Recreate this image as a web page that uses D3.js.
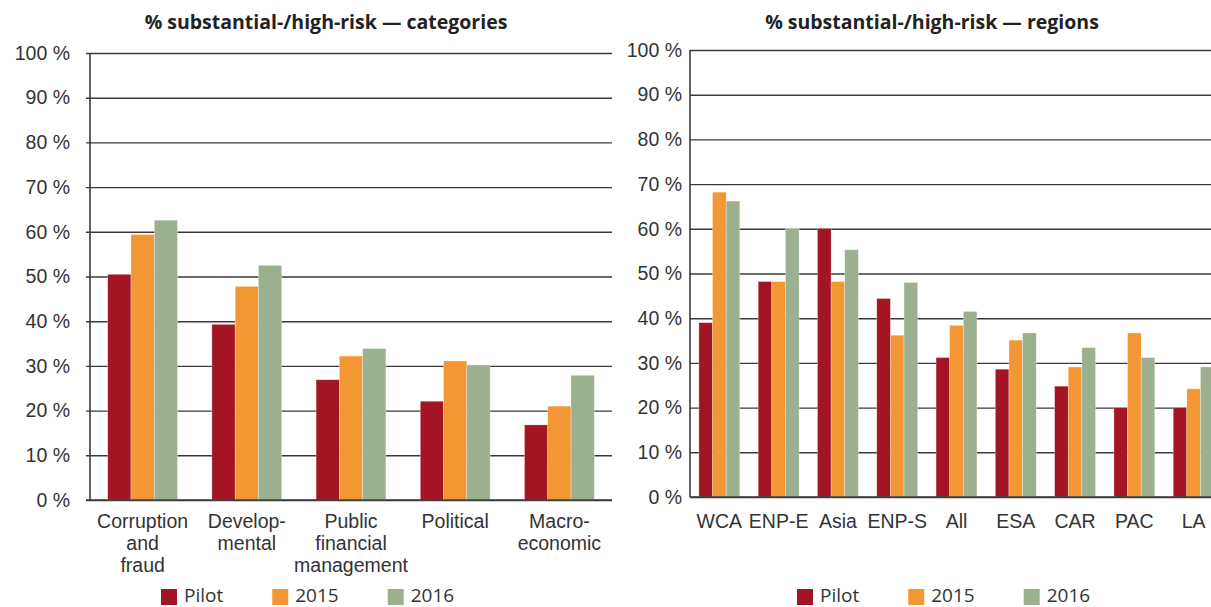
<!DOCTYPE html>
<html>
<head>
<meta charset="utf-8">
<script src="https://cdn.jsdelivr.net/npm/d3@7"></script>
<style>
  html, body { margin: 0; padding: 0; background: #fff; overflow: hidden; }
  svg { display: block; font-family: "Open Sans", sans-serif; }
  .tick text { fill: #333; font-size: 19.5px; }
  .title { font-weight: bold; font-size: 19.5px; fill: #222; }
  .legend text { fill: #333; font-size: 19px; }
</style>
</head>
<body>
<div id="chart"></div>
<script>
// values (percent)
const series = ["Pilot", "2015", "2016"]
const colors = ["#a31523", "#f39634", "#9bb08f"]
const yTicks = [0, 10, 20, 30, 40, 50, 60, 70, 80, 90, 100]

const categories = ["Corruption\nand\nfraud", "Develop-\nmental", "Public\nfinancial\nmanagement", "Political", "Macro-\neconomic"]
const catPilot = [50.5, 39.3, 26.9, 22.1, 16.8]
const cat2015 = [59.4, 47.8, 32.2, 31.1, 21.0]
const cat2016 = [62.6, 52.5, 33.9, 30.2, 27.9]

const regions = ["WCA", "ENP-E", "Asia", "ENP-S", "All", "ESA", "CAR", "PAC", "LA"]
const regPilot = [39.0, 48.2, 60.1, 44.4, 31.2, 28.6, 24.8, 20.0, 20.0]
const reg2015 = [68.2, 48.2, 48.2, 36.2, 38.4, 35.1, 29.1, 36.7, 24.2]
const reg2016 = [66.2, 60.1, 55.3, 48.0, 41.5, 36.7, 33.4, 31.2, 29.1]

const W = 1211, H = 607

const svg = d3.select("#chart")
  .append("svg")
  .attr("width", W)
  .attr("height", H)

function drawChart(opts) {
  const g = svg.append("g")

  const x = d3.scaleBand()
    .domain(opts.names)
    .range([opts.axisX, opts.bandEnd])
    .paddingInner(opts.padIn)
    .paddingOuter(opts.padOut)

  const xs = d3.scaleBand()
    .domain(series)
    .range([0, x.bandwidth()])

  const y = d3.scaleLinear()
    .domain([0, 100])
    .range([opts.y0, opts.y100])

  // gridlines + tick labels
  const yAxis = d3.axisLeft(y)
    .tickValues(yTicks)
    .tickFormat(d => d + " %")
    .tickSize(opts.gridEnd - opts.gridStart)
    .tickPadding(opts.gridStart - opts.labelRight)

  g.append("g")
    .attr("transform", `translate(${opts.gridEnd},0)`)
    .call(yAxis)
    .call(a => a.select(".domain").remove())
    .call(a => a.selectAll(".tick line").attr("stroke", "#3a3a3a").attr("stroke-width", 1.4))

  // bars
  const rows = opts.names.map((n, i) => ({ name: n, vals: opts.values.map(v => v[i]) }))
  g.append("g")
    .selectAll("g")
    .data(rows)
    .join("g")
    .attr("transform", d => `translate(${x(d.name)},0)`)
    .selectAll("rect")
    .data(d => d.vals.map((v, k) => ({ key: series[k], v: v, c: colors[k] })))
    .join("rect")
    .attr("x", d => xs(d.key))
    .attr("y", d => y(d.v))
    .attr("width", xs.bandwidth())
    .attr("height", d => y(0) - y(d.v))
    .attr("fill", d => d.c)
    .attr("stroke", "#fff")
    .attr("stroke-opacity", 0.5)
    .attr("stroke-width", 0.6)

  // vertical axis line and base line
  g.append("line")
    .attr("x1", opts.axisX).attr("x2", opts.axisX)
    .attr("y1", y(100)).attr("y2", y(0))
    .attr("stroke", "#3a3a3a").attr("stroke-width", 1.6)
  g.append("line")
    .attr("x1", opts.gridStart).attr("x2", opts.gridEnd)
    .attr("y1", y(0)).attr("y2", y(0))
    .attr("stroke", "#3a3a3a").attr("stroke-width", 1.6)

  // category labels
  const xAxis = d3.axisBottom(x).tickSize(0).tickPadding(0)
  const xa = g.append("g")
    .attr("transform", `translate(0,${opts.labelY})`)
    .call(xAxis)
  xa.select(".domain").remove()
  xa.selectAll(".tick text")
    .attr("y", 0).attr("dy", 0)
    .text(null)
    .each(function(d) {
      const t = d3.select(this)
      d.split("\n").forEach((line, i) => {
        t.append("tspan")
          .attr("x", 0)
          .attr("y", i * 22)
          .text(line)
      })
    })

  // title
  g.append("text")
    .attr("class", "title")
    .attr("x", opts.center)
    .attr("y", 29)
    .attr("text-anchor", "middle")
    .text(opts.title)

  // legend
  const lg = g.append("g").attr("class", "legend")
  const items = lg.selectAll("g")
    .data(series)
    .join("g")
  items.append("rect")
    .attr("width", 16).attr("height", 16)
    .attr("y", 589)
    .attr("fill", (d, i) => colors[i])
  items.append("text")
    .attr("x", 23)
    .attr("y", 602)
    .text(d => d)
  let pos = opts.legendX
  const starts = []
  items.each(function() {
    starts.push(pos)
    pos += 23 + this.querySelector("text").getComputedTextLength() + 49
  })
  items.attr("transform", (d, i) => `translate(${starts[i]},0)`)
}

drawChart({
  names: categories,
  values: [catPilot, cat2015, cat2016],
  axisX: 90, bandEnd: 612, padIn: 0.33, padOut: 0.17,
  gridStart: 86, gridEnd: 612, labelRight: 70,
  y0: 500, y100: 53, labelY: 528,
  center: 326, legendX: 161,
  title: "% substantial-/high-risk — categories"
})

drawChart({
  names: regions,
  values: [regPilot, reg2015, reg2016],
  axisX: 690, bandEnd: 1223, padIn: 0.31, padOut: 0.15,
  gridStart: 690, gridEnd: 1211, labelRight: 682,
  y0: 497, y100: 50, labelY: 528,
  center: 932, legendX: 797,
  title: "% substantial-/high-risk — regions"
})
</script>
</body>
</html>
